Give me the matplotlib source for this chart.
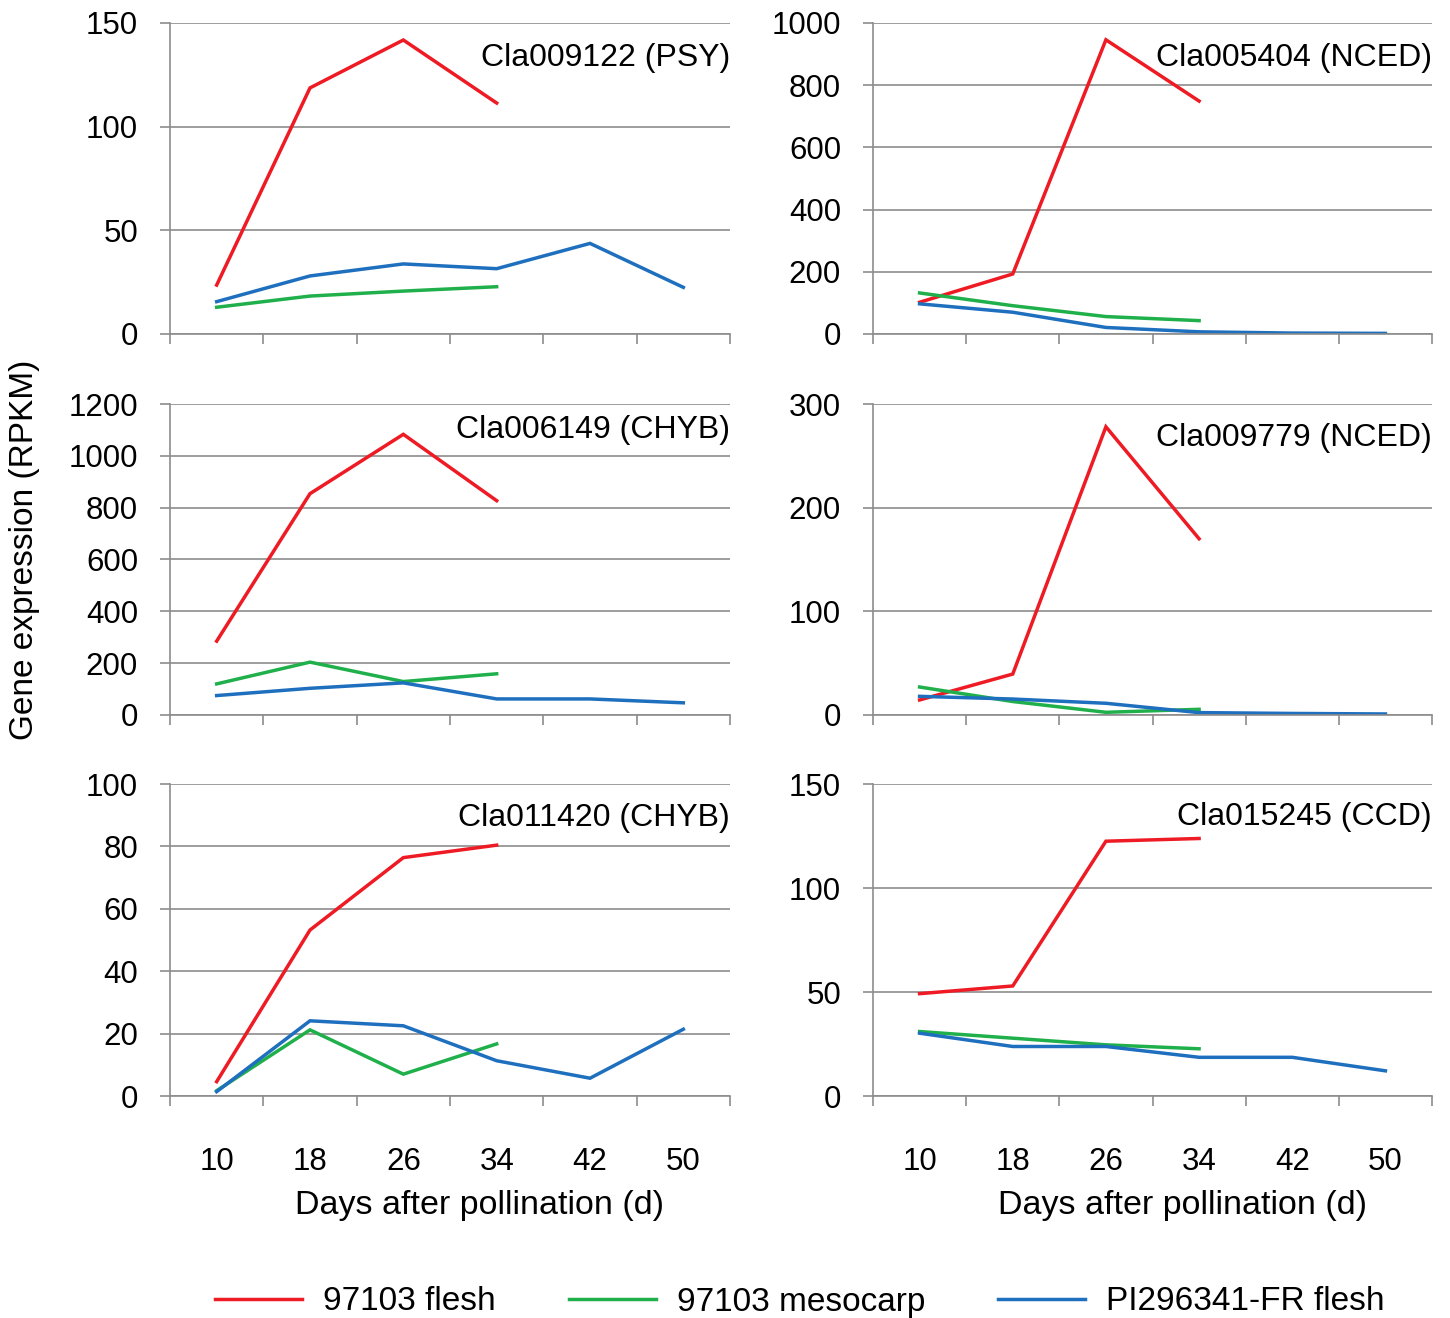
import matplotlib
matplotlib.use("Agg")
import matplotlib.pyplot as plt
from matplotlib.ticker import MultipleLocator, FixedLocator

plt.rcParams['font.family'] = ['Liberation Sans', 'DejaVu Sans']

days = ['10', '18', '26', '34', '42', '50']
series_names = ['97103 flesh', '97103 mesocarp', 'PI296341-FR flesh']
colors = ['#ee1b24', '#20b04b', '#1f6fbf']

genes = ['Cla009122 (PSY)', 'Cla005404 (NCED)', 'Cla006149 (CHYB)',
         'Cla009779 (NCED)', 'Cla011420 (CHYB)', 'Cla015245 (CCD)']

# 97103 flesh and mesocarp sampled up to 34 d, PI296341-FR up to 50 d
psy_flesh = [23.6, 118.7, 141.8, 111.4]
psy_meso = [12.9, 18.3, 20.7, 22.8]
psy_fr = [15.6, 28.0, 33.8, 31.5, 43.7, 22.5]

nced1_flesh = [102, 193, 946, 749]
nced1_meso = [132, 91, 56, 43]
nced1_fr = [97, 70, 21, 7, 3, 2]

chyb1_flesh = [285, 854, 1083, 827]
chyb1_meso = [120, 204, 129, 159]
chyb1_fr = [75, 103, 124, 62, 62, 47]

nced2_flesh = [14.5, 39.5, 278, 170]
nced2_meso = [27, 13, 2.6, 5.5]
nced2_fr = [18, 15.4, 11.3, 2.3, 1.5, 1.0]

chyb2_flesh = [4.6, 53.2, 76.4, 80.4]
chyb2_meso = [1.7, 21.2, 7.0, 16.7]
chyb2_fr = [1.4, 24.1, 22.5, 11.3, 5.7, 21.4]

ccd_flesh = [49.2, 52.9, 122.5, 123.8]
ccd_meso = [31.0, 27.8, 24.6, 22.7]
ccd_fr = [30.2, 23.8, 23.8, 18.6, 18.6, 12.1]

panel_data = [
    (psy_flesh, psy_meso, psy_fr),
    (nced1_flesh, nced1_meso, nced1_fr),
    (chyb1_flesh, chyb1_meso, chyb1_fr),
    (nced2_flesh, nced2_meso, nced2_fr),
    (chyb2_flesh, chyb2_meso, chyb2_fr),
    (ccd_flesh, ccd_meso, ccd_fr),
]
y_max = [150, 1000, 1200, 300, 100, 150]
y_step = [50, 200, 200, 100, 20, 50]
label_y = [0.887, 0.887, 0.916, 0.89, 0.891, 0.893]

W, H = 1450, 1318
fig = plt.figure(figsize=(W / 100, H / 100), dpi=100)

col_x = [(170, 560), (873, 559)]
row_y = [(23, 334), (404, 715), (784, 1096)]
grid_col = '#8c8c8c'

axes = []
for i in range(6):
    r, c = divmod(i, 2)
    x0, w = col_x[c]
    top, bot = row_y[r]
    ax = fig.add_axes([x0 / W, 1 - bot / H, w / W, (bot - top) / H])
    axes.append(ax)

    xs = list(range(len(days)))
    for vals, col in zip(panel_data[i], colors):
        ax.plot(xs[:len(vals)], vals, color=col, lw=2.5, solid_joinstyle='miter')

    ax.set_xlim(-0.5, len(days) - 0.5)
    ax.set_ylim(0, y_max[i])
    ax.yaxis.set_major_locator(MultipleLocator(y_step[i]))
    ax.yaxis.grid(True, color=grid_col, lw=1.2)
    ax.set_axisbelow(True)

    for s in ['top', 'right']:
        ax.spines[s].set_visible(False)
    for s in ['left', 'bottom']:
        ax.spines[s].set_color(grid_col)
        ax.spines[s].set_linewidth(1.2)

    ax.tick_params(axis='y', direction='out', length=7, width=1.2,
                   color=grid_col, labelsize=22.5, pad=16)
    ax.set_xticks(xs)
    ax.xaxis.set_minor_locator(FixedLocator([x - 0.5 for x in range(len(days) + 1)]))
    ax.tick_params(axis='x', which='minor', direction='out', length=7,
                   width=1.2, color=grid_col)
    if r == 2:
        ax.set_xticklabels(days)
        ax.tick_params(axis='x', which='major', length=0, labelsize=22.5, pad=37)
        ax.set_xlabel('Days after pollination (d)', fontsize=24.5)
        ax.xaxis.set_label_coords(0.553, -0.30)
    else:
        ax.tick_params(axis='x', which='major', length=0, labelbottom=False)

    ax.text(1.0, label_y[i], genes[i], transform=ax.transAxes,
            ha='right', va='center', fontsize=23)

fig.text(25 / W, 1 - 550 / H, 'Gene expression (RPKM)', rotation=90,
         ha='center', va='center', fontsize=24)

handles = [plt.Line2D([], [], color=c, lw=2.5) for c in colors]
fig.legend(handles, series_names, loc='center', ncol=3, frameon=False,
           bbox_to_anchor=(800 / W, 1 - 1302 / H), fontsize=24,
           handlelength=2.6, handletextpad=0.63, columnspacing=2.2)

fig.savefig('out.png', dpi=100)
